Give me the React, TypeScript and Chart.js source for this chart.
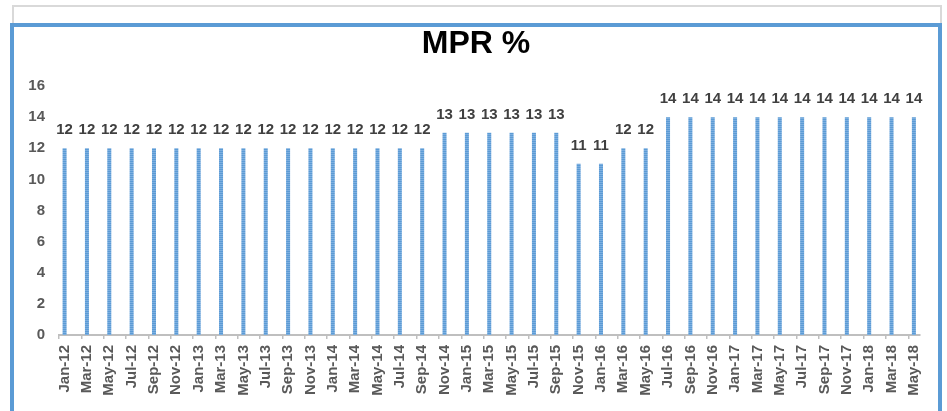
import React, { useEffect, useRef } from 'react';
import { Chart, registerables } from 'chart.js';

Chart.register(...registerables);

const chartTitle = 'MPR %';

const months = [
  'Jan-12', 'Mar-12', 'May-12', 'Jul-12', 'Sep-12', 'Nov-12',
  'Jan-13', 'Mar-13', 'May-13', 'Jul-13', 'Sep-13', 'Nov-13',
  'Jan-14', 'Mar-14', 'May-14', 'Jul-14', 'Sep-14', 'Nov-14',
  'Jan-15', 'Mar-15', 'May-15', 'Jul-15', 'Sep-15', 'Nov-15',
  'Jan-16', 'Mar-16', 'May-16', 'Jul-16', 'Sep-16', 'Nov-16',
  'Jan-17', 'Mar-17', 'May-17', 'Jul-17', 'Sep-17', 'Nov-17',
  'Jan-18', 'Mar-18', 'May-18',
];

const mprValues = [
  12, 12, 12, 12, 12, 12,
  12, 12, 12, 12, 12, 12,
  12, 12, 12, 12, 12, 13,
  13, 13, 13, 13, 13, 11,
  11, 12, 12, 14, 14, 14,
  14, 14, 14, 14, 14, 14,
  14, 14, 14,
];

const yMin = 0;
const yMax = 16;
const yStep = 2;

export default function App() {
  const canvasRef = useRef<HTMLCanvasElement | null>(null);

  useEffect(() => {
    const canvas = canvasRef.current;
    if (!canvas) return;
    const ctx = canvas.getContext('2d')!;

    // monthly slots (date-axis style): each reading occupies one month, every other month empty
    const slotLabels: string[] = [];
    const slotValues: (number | null)[] = [];
    months.forEach((m, i) => {
      slotLabels.push(m);
      slotValues.push(mprValues[i]);
      if (i < months.length - 1) {
        slotLabels.push('');
        slotValues.push(null);
      }
    });

    const pc = document.createElement('canvas');
    pc.width = 4;
    pc.height = 2;
    const pctx = pc.getContext('2d')!;
    pctx.fillStyle = '#5B9BD5';
    pctx.fillRect(0, 0, 4, 1);
    pctx.fillStyle = '#7DAFE0';
    pctx.fillRect(0, 1, 4, 1);
    const pattern = ctx.createPattern(pc, 'repeat') || '#5B9BD5';

    const valueLabels = {
      id: 'valueLabels',
      afterDatasetsDraw(chart: any) {
        const c = chart.ctx;
        const meta = chart.getDatasetMeta(0);
        const data = chart.data.datasets[0].data;
        c.save();
        c.font = 'bold 15px "Liberation Sans"';
        c.fillStyle = '#404040';
        c.textAlign = 'center';
        c.textBaseline = 'middle';
        meta.data.forEach((el: any, i: number) => {
          const v = data[i];
          if (v === null || v === undefined) return;
          c.fillText(String(v), el.x, el.y - 18);
        });
        c.restore();
      },
    };

    const chart = new Chart(ctx, {
      type: 'bar',
      data: {
        labels: slotLabels,
        datasets: [
          {
            label: 'MPR %',
            data: slotValues,
            backgroundColor: pattern as any,
            borderWidth: 0,
            barPercentage: 0.36,
            categoryPercentage: 1,
          },
        ],
      },
      options: {
        responsive: false,
        animation: false,
        layout: { padding: { left: 0, right: 0, top: 0, bottom: 0 } },
        plugins: {
          legend: { display: false },
          tooltip: { enabled: false },
          title: {
            display: true,
            text: chartTitle,
            color: '#000000',
            font: { family: '"Liberation Sans"', size: 32, weight: 'bold', lineHeight: 0.9 },
            padding: { top: 3, bottom: 27.2 },
          },
        },
        scales: {
          x: {
            offset: true,
            grid: {
              display: true,
              drawOnChartArea: false,
              drawTicks: true,
              tickLength: 4,
              offset: true,
              lineWidth: 1.5,
              tickColor: (c: any) => (typeof c.index === 'number' && c.index % 2 === 0 ? '#BFBFBF' : 'rgba(0,0,0,0)'),
              color: 'rgba(0,0,0,0)',
            },
            border: { display: true, color: '#BFBFBF', width: 2 },
            ticks: {
              autoSkip: false,
              maxRotation: 90,
              minRotation: 90,
              padding: 6,
              color: '#595959',
              font: { family: '"Liberation Sans"', size: 15, weight: 'bold' },
            },
            afterFit: (scale: any) => {
              scale.height = 76;
            },
          },
          y: {
            min: yMin,
            max: yMax,
            grid: { display: false, drawTicks: false },
            border: { display: false },
            ticks: {
              stepSize: yStep,
              padding: 14,
              color: '#595959',
              font: { family: '"Liberation Sans"', size: 15, weight: 'bold' },
            },
            afterFit: (scale: any) => {
              scale.width = 45;
            },
          },
          // empty spacer on the right so the plot ends where the reference's does
          yRight: {
            position: 'right',
            min: yMin,
            max: yMax,
            grid: { display: false, drawTicks: false },
            border: { display: false },
            ticks: { display: false },
            afterFit: (scale: any) => {
              scale.width = 18;
            },
          },
        },
      },
      plugins: [valueLabels],
    });

    return () => {
      chart.destroy();
    };
  }, []);

  return (
    <div
      style={{
        position: 'absolute',
        left: 0,
        top: 0,
        width: 947,
        height: 411,
        overflow: 'hidden',
        background: '#ffffff',
      }}
    >
      <div
        style={{
          position: 'absolute',
          left: 12,
          top: 5,
          width: 926,
          height: 420,
          border: '2px solid #D9D9D9',
        }}
      />
      <div
        style={{
          position: 'absolute',
          left: 10,
          top: 23,
          width: 924,
          height: 420,
          border: '4px solid #5B9BD5',
          background: '#ffffff',
        }}
      />
      <div style={{ position: 'absolute', left: 14, top: 27, width: 924, height: 384 }}>
        <canvas ref={canvasRef} width={924} height={384} style={{ display: 'block' }} />
      </div>
    </div>
  );
}
